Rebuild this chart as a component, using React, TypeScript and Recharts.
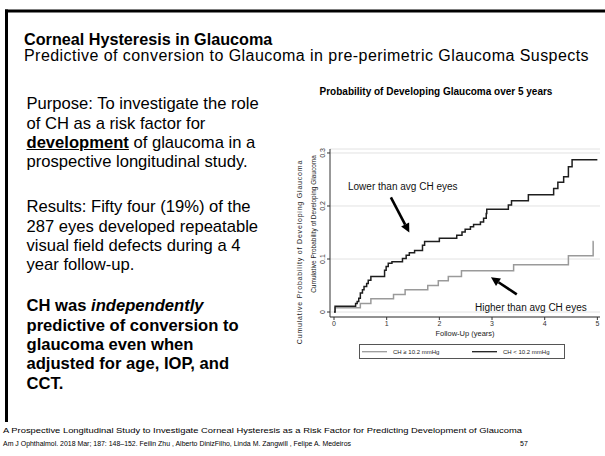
import { CartesianGrid, Line, LineChart, ReferenceLine, XAxis, YAxis } from "recharts"

// Kaplan-Meier style cumulative probability
const lowerChTimes = [0, 0.02, 0.41, 0.44, 0.47, 0.5, 0.54, 0.57, 0.62, 0.65, 0.7, 0.96, 0.99, 1.03, 1.1, 1.3, 1.37, 1.43, 1.53, 1.68, 1.72, 2.0, 2.33, 2.43, 2.49, 2.59, 2.65, 2.78, 2.84, 2.89, 2.9, 3.31, 3.37, 3.69, 4.17, 4.25, 4.36, 4.45, 4.52, 5.0]
const lowerChProb = [0, 0.011, 0.016, 0.02, 0.026, 0.036, 0.042, 0.048, 0.054, 0.06, 0.067, 0.079, 0.086, 0.092, 0.095, 0.101, 0.107, 0.112, 0.116, 0.126, 0.133, 0.139, 0.145, 0.151, 0.156, 0.161, 0.165, 0.17, 0.177, 0.186, 0.194, 0.202, 0.21, 0.221, 0.233, 0.245, 0.255, 0.274, 0.287, 0.287]

const higherChTimes = [0, 0.02, 0.5, 0.7, 1.13, 1.35, 1.78, 1.98, 2.17, 2.42, 3.41, 4.45, 4.92, 4.93]
const higherChProb = [0, 0.008, 0.016, 0.025, 0.033, 0.042, 0.05, 0.059, 0.067, 0.078, 0.089, 0.106, 0.133, 0.133]

const xTicks = [0, 1, 2, 3, 4, 5]
const yTicks = [0, 0.1, 0.2, 0.3]
const legendNames = ["CH ≥ 10.2 mmHg", "CH < 10.2 mmHg"]

const lowerData = lowerChTimes.map((t, i) => ({ t, p: lowerChProb[i] }))
const higherData = higherChTimes.map((t, i) => ({ t, p: higherChProb[i] }))

const font = "'Liberation Sans', Arial, sans-serif"

function YTick(props: any) {
  const { x, y, payload } = props
  const label = payload.value === 0 ? "0" : Number(payload.value).toFixed(1)
  return (
    <text
      x={x}
      y={y}
      transform={`rotate(-90 ${x} ${y})`}
      textAnchor="middle"
      dominantBaseline="central"
      fontSize={7}
      fill="#333"
      fontFamily={font}
    >
      {label}
    </text>
  )
}

function Arrow(props: any) {
  const { x1, y1, x2, y2 } = props
  const a = Math.atan2(y2 - y1, x2 - x1)
  const len = 9
  const w = 4.5
  const bx = x2 - len * Math.cos(a)
  const by = y2 - len * Math.sin(a)
  const px = Math.sin(a) * w
  const py = Math.cos(a) * w
  return (
    <g>
      <line x1={x1} y1={y1} x2={bx} y2={by} stroke="#000" strokeWidth={2.6} />
      <polygon points={`${x2},${y2} ${bx + px},${by - py} ${bx - px},${by + py}`} fill="#000" />
    </g>
  )
}

export default function App() {
  return (
    <div
      style={{
        position: "absolute",
        left: 0,
        top: 0,
        width: 605,
        height: 456,
        background: "#fff",
        overflow: "hidden",
        fontFamily: font,
        color: "#000",
      }}
    >
      <div style={{ position: "absolute", left: 24, top: 31.6, fontSize: 16.2, fontWeight: "bold", lineHeight: "14px", whiteSpace: "nowrap" }}>
        Corneal Hysteresis in Glaucoma
      </div>
      <div style={{ position: "absolute", left: 24, top: 49, fontSize: 16, letterSpacing: 0.45, lineHeight: "13px", whiteSpace: "nowrap" }}>
        Predictive of conversion to Glaucoma in pre-perimetric Glaucoma Suspects
      </div>

      <div style={{ position: "absolute", left: 26.5, top: 94.4, fontSize: 16.6, lineHeight: "19.3px", whiteSpace: "nowrap" }}>
        Purpose: To investigate the role
        <br />
        of CH as a risk factor for
        <br />
        <b style={{ textDecoration: "underline" }}>development</b> of glaucoma in a
        <br />
        prospective longitudinal study.
      </div>
      <div style={{ position: "absolute", left: 26.5, top: 197.4, fontSize: 16.6, lineHeight: "19.3px", whiteSpace: "nowrap" }}>
        Results: Fifty four (19%) of the
        <br />
        287 eyes developed repeatable
        <br />
        visual field defects during a 4
        <br />
        year follow-up.
      </div>
      <div style={{ position: "absolute", left: 26.5, top: 296.4, fontSize: 16.6, lineHeight: "19.3px", fontWeight: "bold", whiteSpace: "nowrap" }}>
        CH was <i>independently</i>
        <br />
        predictive of conversion to
        <br />
        glaucoma even when
        <br />
        adjusted for age, IOP, and
        <br />
        CCT.
      </div>

      <div style={{ position: "absolute", left: 280, top: 80 }}>
        <LineChart width={325} height={300} margin={{ top: 69, right: 5, bottom: 43, left: 0 }}>
          <CartesianGrid vertical={false} stroke="#e2e2e2" strokeWidth={1} />
          <XAxis
            type="number"
            dataKey="t"
            domain={[-0.076, 5.05]}
            ticks={xTicks}
            allowDataOverflow
            height={20}
            tickSize={3}
            tickMargin={1}
            stroke="#333"
            tick={{ fontSize: 7, fill: "#333", fontFamily: font }}
          />
          <YAxis
            type="number"
            domain={[-0.0094, 0.3075]}
            ticks={yTicks}
            allowDataOverflow
            width={50}
            tickSize={3}
            tickMargin={4}
            stroke="#333"
            tick={<YTick />}
          />
          <Line
            data={higherData}
            dataKey="p"
            type="stepAfter"
            stroke="#9a9a9a"
            strokeWidth={1.5}
            dot={false}
            isAnimationActive={false}
          />
          <Line
            data={lowerData}
            dataKey="p"
            type="stepAfter"
            stroke="#1e1e1e"
            strokeWidth={1.5}
            dot={false}
            isAnimationActive={false}
          />
          <ReferenceLine segment={[{ x: 1.08, y: 0.2164 }, { x: 1.43, y: 0.15 }]} shape={<Arrow />} />
          <ReferenceLine segment={[{ x: 3.47, y: 0.0334 }, { x: 2.98, y: 0.0655 }]} shape={<Arrow />} />
        </LineChart>
      </div>

      <svg width={605} height={456} style={{ position: "absolute", left: 0, top: 0, pointerEvents: "none" }} fontFamily={font}>
        <line x1={5} y1={11} x2={605} y2={11} stroke="#000" strokeWidth={3} />
        <line x1={6.5} y1={9.5} x2={6.5} y2={422} stroke="#000" strokeWidth={3} />

        <text x={436} y={94.5} textAnchor="middle" fontSize={10} fontWeight="bold">
          Probability of Developing Glaucoma over 5 years
        </text>
        <text x={348} y={189.5} fontSize={10} fill="#111">
          Lower than avg CH eyes
        </text>
        <text x={475} y={310.5} fontSize={10} fill="#111">
          Higher than avg CH eyes
        </text>
        <text x={465} y={336} textAnchor="middle" fontSize={7.5} fill="#222">
          Follow-Up (years)
        </text>
        <text
          x={302}
          y={252}
          textAnchor="middle"
          fontSize={7}
          letterSpacing={0.8}
          fill="#222"
          transform="rotate(-90 302 252)"
        >
          Cumulative Probability of Developing Glaucoma
        </text>
        <text x={316} y={224} textAnchor="middle" fontSize={6.5} fill="#222" transform="rotate(-90 316 224)">
          Cumulative Probability of Developing Glaucoma
        </text>

        <rect x={359.5} y={344.5} width={205} height={14} fill="none" stroke="#555" strokeWidth={1} />
        <line x1={362} y1={351.7} x2={387} y2={351.7} stroke="#9a9a9a" strokeWidth={1.3} />
        <text x={393} y={354} fontSize={6} fill="#222">
          {legendNames[0]}
        </text>
        <line x1={472} y1={351.7} x2={497} y2={351.7} stroke="#1e1e1e" strokeWidth={1.3} />
        <text x={503} y={354} fontSize={6} fill="#222">
          {legendNames[1]}
        </text>

        <text x={3} y={433} fontSize={7} textLength={519} lengthAdjust="spacingAndGlyphs">
          A Prospective Longitudinal Study to Investigate Corneal Hysteresis as a Risk Factor for Predicting Development of Glaucoma
        </text>
        <text x={3} y={446} fontSize={7} textLength={348} lengthAdjust="spacingAndGlyphs">
          Am J Ophthalmol. 2018 Mar; 187: 148–152. Feilin Zhu , Alberto DinizFilho, Linda M. Zangwill , Felipe A. Medeiros
        </text>
        <text x={520} y={446} fontSize={7}>
          57
        </text>
      </svg>
    </div>
  )
}
